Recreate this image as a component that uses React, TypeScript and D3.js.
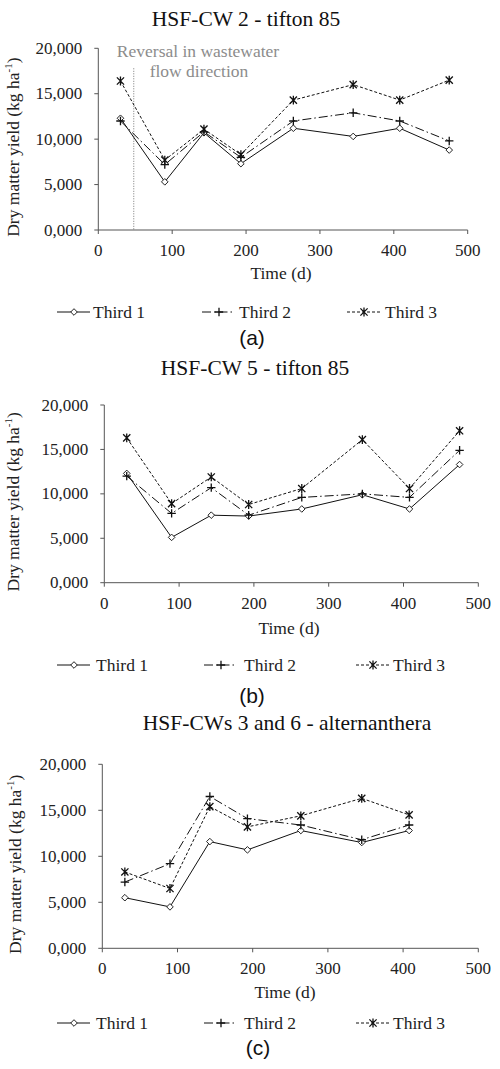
import React from "react";
import * as d3 from "d3";

// sampling days
const timesAB = [30, 90, 143, 193, 264, 345, 408, 475];
const timesC = [30, 90, 143, 193, 264, 345, 408];

// HSF-CW 2 - tifton 85
const cw2Third1 = [12300, 5300, 10700, 7300, 11200, 10300, 11200, 8800];
const cw2Third2 = [12000, 7200, 10800, 8000, 12000, 12900, 12000, 9800];
const cw2Third3 = [16400, 7700, 11100, 8300, 14300, 16000, 14300, 16500];

// HSF-CW 5 - tifton 85
const cw5Third1 = [12300, 5100, 7600, 7500, 8300, 9900, 8300, 13300];
const cw5Third2 = [12000, 7800, 10700, 7600, 9600, 10000, 9600, 14900];
const cw5Third3 = [16300, 8900, 11900, 8800, 10600, 16100, 10600, 17100];

// HSF-CWs 3 and 6 - alternanthera
const cw36Third1 = [5500, 4500, 11600, 10700, 12800, 11500, 12800];
const cw36Third2 = [7200, 9200, 16500, 14100, 13400, 11800, 13400];
const cw36Third3 = [8300, 6500, 15400, 13200, 14400, 16300, 14500];

const seriesNames = ["Third 1", "Third 2", "Third 3"];
const xTicks = [0, 100, 200, 300, 400, 500];
const yTicks = [0, 5000, 10000, 15000, 20000];
const reversalDay = 48;

const serif = "'Liberation Serif', 'Times New Roman', serif";
const sans = "'Liberation Sans', Arial, sans-serif";
const dashes = ["none", "9,3,1.5,3", "3,2"];

// axis shows 0,000 for zero, thousands separator otherwise
const fmtY = (v: number) => (v === 0 ? "0,000" : d3.format(",")(v));

const panels = [
  {
    title: "HSF-CW 2 - tifton 85", tag: "(a)", times: timesAB,
    series: [cw2Third1, cw2Third2, cw2Third3],
    left: 98.3, right: 467.7, top: 48.3, bottom: 230,
    titleX: 246, titleY: 26, ylabX: 13, xlabX: 281, xlabY: 279,
    legY: 312, legX: [57, 202, 347], legText: [93, 239, 385],
    tagX: 252, tagY: 345, reversal: true,
  },
  {
    title: "HSF-CW 5 - tifton 85", tag: "(b)", times: timesAB,
    series: [cw5Third1, cw5Third2, cw5Third3],
    left: 104.3, right: 478.3, top: 405, bottom: 582.7,
    titleX: 255, titleY: 375, ylabX: 13, xlabX: 289, xlabY: 634,
    legY: 665, legX: [57, 204, 356], legText: [96, 244, 393],
    tagX: 252, tagY: 703, reversal: false,
  },
  {
    title: "HSF-CWs 3 and 6 - alternanthera", tag: "(c)", times: timesC,
    series: [cw36Third1, cw36Third2, cw36Third3],
    left: 102.3, right: 478.3, top: 764.3, bottom: 948.3,
    titleX: 287, titleY: 730, ylabX: 15, xlabX: 285, xlabY: 998,
    legY: 1023, legX: [57, 204, 356], legText: [96, 244, 393],
    tagX: 258, tagY: 1055, reversal: false,
  },
];

function Marker({ kind, x, y }: { kind: number; x: number; y: number }) {
  if (kind === 0) {
    const r = 3.3;
    return (
      <path d={`M${x},${y - r}L${x + r},${y}L${x},${y + r}L${x - r},${y}Z`}
        fill="#fff" stroke="#222" strokeWidth={1} />
    );
  }
  if (kind === 1) {
    const r = 4.2;
    return <path d={`M${x - r},${y}H${x + r}M${x},${y - r}V${y + r}`} stroke="#111" strokeWidth={1.3} />;
  }
  const r = 3.6;
  return (
    <path d={`M${x - r},${y - r}L${x + r},${y + r}M${x - r},${y + r}L${x + r},${y - r}M${x},${y - r - 0.8}V${y + r + 0.8}`}
      stroke="#111" strokeWidth={1.3} />
  );
}

function Panel({ p }: { p: (typeof panels)[number] }) {
  const x = d3.scaleLinear().domain([0, 500]).range([p.left, p.right]);
  const y = d3.scaleLinear().domain([0, 20000]).range([p.bottom, p.top]);
  const line = d3.line<number>().x((_, i) => x(p.times[i])).y((d) => y(d));

  return (
    <g>
      <text x={p.titleX} y={p.titleY} textAnchor="middle" fontFamily={serif} fontSize={21.5} fill="#111">
        {p.title}
      </text>

      {/* axes */}
      <line x1={p.left} x2={p.left} y1={p.top} y2={p.bottom} stroke="#555" />
      <line x1={p.left} x2={p.right} y1={p.bottom} y2={p.bottom} stroke="#555" />
      {yTicks.map((t) => (
        <g key={"y" + t}>
          <line x1={p.left - 4} x2={p.left} y1={y(t)} y2={y(t)} stroke="#555" />
          <text x={p.left - 16} y={y(t)} dy="0.33em" textAnchor="end" fontFamily={serif} fontSize={17} fill="#222">
            {fmtY(t)}
          </text>
        </g>
      ))}
      {xTicks.map((t) => (
        <g key={"x" + t}>
          <line x1={x(t)} x2={x(t)} y1={p.bottom} y2={p.bottom + 4} stroke="#555" />
          <text x={x(t)} y={p.bottom + 26} textAnchor="middle" fontFamily={serif} fontSize={17} fill="#222">
            {t}
          </text>
        </g>
      ))}
      <text x={p.xlabX} y={p.xlabY} textAnchor="middle" fontFamily={serif} fontSize={17.5} fill="#222">
        Time (d)
      </text>
      <text transform={`translate(${p.ylabX + 6},${(p.top + p.bottom) / 2 + 8}) rotate(-90)`}
        textAnchor="middle" fontFamily={serif} fontSize={17.5} fill="#222">
        Dry matter yield (kg ha<tspan dy="-7" fontSize={11}>-1</tspan><tspan dy="7">)</tspan>
      </text>

      {p.reversal && (
        <g>
          <line x1={x(reversalDay)} x2={x(reversalDay)} y1={p.top + 20} y2={p.bottom}
            stroke="#555" strokeWidth={0.8} strokeDasharray="1,1.5" />
          <text x={198} y={57} textAnchor="middle" fontFamily={serif} fontSize={17.5} fill="#8c8c8c">
            Reversal in wastewater
          </text>
          <text x={199} y={77} textAnchor="middle" fontFamily={serif} fontSize={17.5} fill="#8c8c8c">
            flow direction
          </text>
        </g>
      )}

      {p.series.map((s, k) => (
        <g key={"s" + k}>
          <path d={line(s) ?? ""} fill="none" stroke="#111" strokeWidth={1} strokeDasharray={dashes[k]} />
          {s.map((v, i) => (
            <Marker key={i} kind={k} x={x(p.times[i])} y={y(v)} />
          ))}
        </g>
      ))}

      {/* legend */}
      {seriesNames.map((n, k) => (
        <g key={"l" + k}>
          <line x1={p.legX[k]} x2={p.legX[k] + 33} y1={p.legY} y2={p.legY}
            stroke="#111" strokeWidth={1} strokeDasharray={dashes[k]} />
          <Marker kind={k} x={p.legX[k] + 17} y={p.legY} />
          <text x={p.legText[k]} y={p.legY} dy="0.35em" fontFamily={serif} fontSize={17.5} fill="#222">
            {n}
          </text>
        </g>
      ))}

      <text x={p.tagX} y={p.tagY} textAnchor="middle" fontFamily={sans} fontSize={21} fill="#111">
        {p.tag}
      </text>
    </g>
  );
}

export default function App() {
  return (
    <svg width={500} height={1069} style={{ position: "absolute", left: 0, top: 0, background: "#fff" }}>
      <rect width={500} height={1069} fill="#fff" />
      {panels.map((p) => (
        <Panel key={p.tag} p={p} />
      ))}
    </svg>
  );
}
